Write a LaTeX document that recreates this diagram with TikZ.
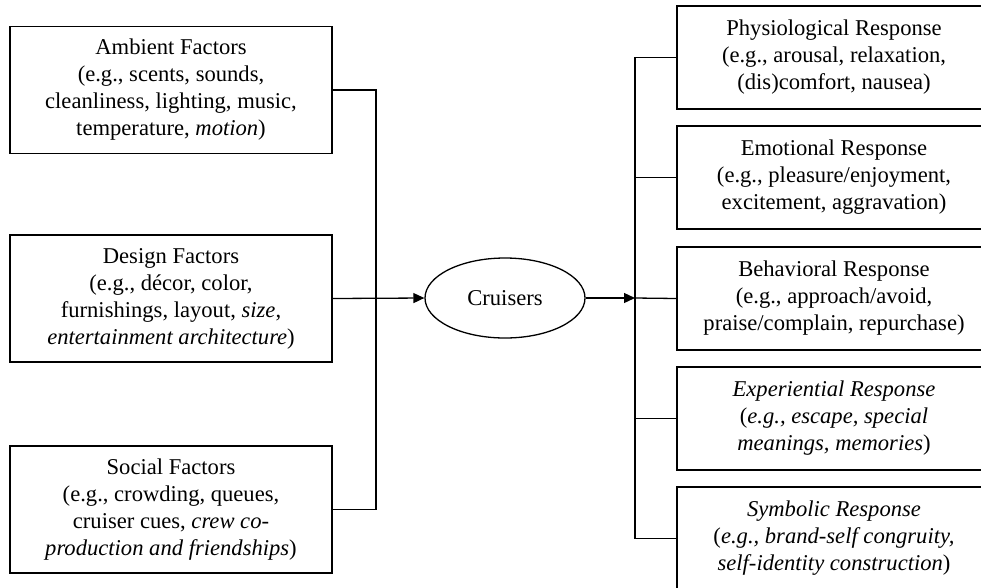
\documentclass[tikz,border=0pt]{standalone}
\usepackage{fontspec}
\setmainfont{Liberation Serif}
\usetikzlibrary{shapes.geometric,arrows.meta}
\begin{document}
\begin{tikzpicture}[x=1pt,y=-1pt,
  every node/.style={font=\fontsize{22.6}{27}\selectfont},
  lbox/.style={draw,line width=1.3pt,minimum width=322pt,minimum height=127pt,align=center,inner sep=0pt},
  rbox/.style={draw,line width=1.3pt,minimum width=314pt,minimum height=103pt,align=center,inner sep=0pt},
  conn/.style={line width=1.3pt},
  arr/.style={line width=1.3pt,-{Triangle[length=11pt,width=10pt]}}]
\path[use as bounding box,clip] (0,0) rectangle (981,587);
% left boxes
\node[lbox] (amb) at (171,90) {Ambient Factors\\(e.g., scents, sounds,\\cleanliness, lighting, music,\\temperature, \textit{motion})};
\node[lbox] (des) at (171,298.5) {Design Factors\\(e.g., décor, color,\\furnishings, layout, \textit{size},\\\textit{entertainment architecture})};
\node[lbox] (soc) at (171,509.5) {Social Factors\\(e.g., crowding, queues,\\cruiser cues, \textit{crew co-}\\\textit{production and friendships})};
% center
\node[draw,ellipse,line width=1.3pt,minimum width=160pt,minimum height=80pt,inner sep=0pt] (cru) at (505,298) {Cruisers};
% right boxes
\node[rbox] (phy) at (834,57.5) {Physiological Response\\(e.g., arousal, relaxation,\\(dis)comfort, nausea)};
\node[rbox] (emo) at (834,177.5) {Emotional Response\\(e.g., pleasure/enjoyment,\\excitement, aggravation)};
\node[rbox] (beh) at (834,298.5) {Behavioral Response\\(e.g., approach/avoid,\\praise/complain, repurchase)};
\node[rbox] (exp) at (834,418.5) {\textit{Experiential Response}\\(\textit{e.g., escape, special}\\\textit{meanings, memories})};
\node[rbox] (sym) at (834,538.5) {\textit{Symbolic Response}\\(\textit{e.g., brand-self congruity,}\\\textit{self-identity construction})};
% bus coordinates
\coordinate (busL) at (376,298);
\coordinate (busR) at (635,298);
% left connectors
\draw[conn] (amb.east) -| (busL) |- (soc.east);
\draw[arr] (des.east) -- (cru.west);
% right connectors
\draw[arr] (cru.east) -- (busR);
\draw[conn] (phy.west) -| (busR) |- (sym.west);
\draw[conn] (emo.west) -| (busR);
\draw[conn] (beh.west) -- (busR);
\draw[conn] (exp.west) -| (busR);
\end{tikzpicture}
\end{document}
